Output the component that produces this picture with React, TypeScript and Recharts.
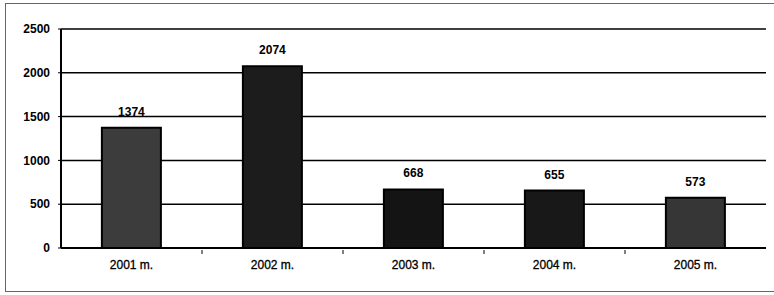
import React from "react";
import { BarChart, Bar, XAxis, YAxis, CartesianGrid, LabelList, Cell } from "recharts";

const categories = ["2001 m.", "2002 m.", "2003 m.", "2004 m.", "2005 m."];
const values = [1374, 2074, 668, 655, 573];
const yTicks = [0, 500, 1000, 1500, 2000, 2500];
const barColors = ["#3c3c3c", "#1c1c1c", "#141414", "#181818", "#363636"];

const data = categories.map((c, i) => ({ name: c, value: values[i] }));

const FONT = "'Liberation Sans', Arial, sans-serif";

const XTick = (props: any) => {
  const { x, y, payload, index, visibleTicksCount } = props;
  const half = payload && payload.offset ? payload.offset : 0;
  const last = visibleTicksCount ? index === visibleTicksCount - 1 : index === categories.length - 1;
  return (
    <g>
      {!last && half > 0 && (
        <line x1={x + half} x2={x + half} y1={y - 6} y2={y - 2} stroke="#000" strokeWidth={1} />
      )}
      <text
        x={x}
        y={y + 13}
        textAnchor="middle"
        fontFamily={FONT}
        fontSize={12}
        fill="#000"
        stroke="#000"
        strokeWidth={0.3}
      >
        {payload.value}
      </text>
    </g>
  );
};

export default function App() {
  return (
    <div style={{ position: "fixed", left: 0, top: 0, width: 774, height: 295, background: "#fff" }}>
      <div
        style={{
          position: "absolute",
          left: 5,
          top: 3,
          width: 772,
          height: 289,
          border: "1px solid #666",
          boxSizing: "border-box",
        }}
      />
      <div style={{ position: "absolute", left: 0, top: 0 }}>
        <BarChart
          width={774}
          height={295}
          data={data}
          margin={{ top: 29, right: 8, left: 0, bottom: 17 }}
          barCategoryGap="29%"
        >
          <CartesianGrid vertical={false} stroke="#000" strokeWidth={1.5} />
          <XAxis
            dataKey="name"
            height={30}
            axisLine={{ stroke: "#000", strokeWidth: 2 }}
            tickLine={false}
            tick={<XTick />}
            interval={0}
          />
          <YAxis
            width={61}
            domain={[0, 2500]}
            ticks={yTicks}
            interval={0}
            axisLine={{ stroke: "#000", strokeWidth: 2 }}
            tickLine={{ stroke: "#000" }}
            tickSize={3}
            tickMargin={8}
            tick={{ fontFamily: FONT, fontSize: 12, fontWeight: "bold", fill: "#000" }}
          />
          <YAxis
            yAxisId="r"
            orientation="right"
            width={0}
            tick={false}
            tickLine={false}
            axisLine={{ stroke: "#000", strokeWidth: 1.5 }}
          />
          <Bar dataKey="value" isAnimationActive={false} stroke="#000" strokeWidth={2}>
            {data.map((d, i) => (
              <Cell key={d.name} fill={barColors[i]} />
            ))}
            <LabelList
              dataKey="value"
              position="top"
              offset={12}
              style={{ fontFamily: FONT, fontSize: 12, fontWeight: "bold", fill: "#000" }}
            />
          </Bar>
        </BarChart>
      </div>
    </div>
  );
}
